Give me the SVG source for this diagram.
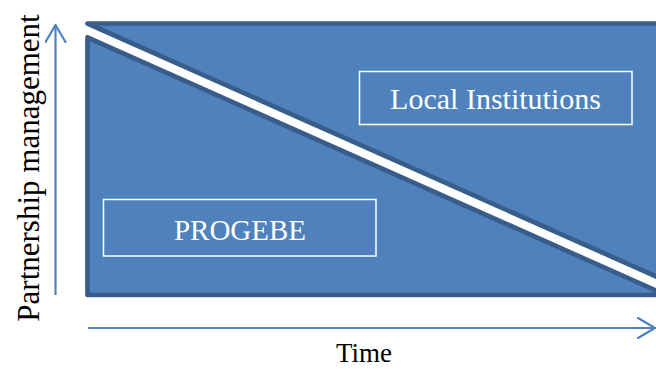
<svg xmlns="http://www.w3.org/2000/svg" width="656" height="369" viewBox="0 0 656 369">
<defs>
<style>
.tri{fill:#4F81BD;stroke:#385D8A;stroke-width:4.7;stroke-linejoin:round}
.box{fill:none;stroke:#FFFFFF;stroke-width:1.5}
.lbl{font-family:"Liberation Serif",serif;fill:#FFFFFF;text-anchor:middle}
.axl{font-family:"Liberation Serif",serif;fill:#000000;text-anchor:middle}
.axis{stroke:#4F81BD;stroke-width:2.2;fill:none}
</style>
<marker id="arr" viewBox="0 0 20 22" refX="18" refY="11" markerWidth="20" markerHeight="22" markerUnits="userSpaceOnUse" orient="auto">
<path d="M1,1 L18,11 L1,21" fill="none" stroke="#4F81BD" stroke-width="2.2" stroke-linecap="round" stroke-linejoin="round"/>
</marker>
</defs>
<rect width="656" height="369" fill="#FFFFFF"/>
<g id="local-institutions">
<polygon class="tri" points="87.5,23.5 700,23.5 700,296"/>
<rect class="box" x="359.5" y="71.5" width="272.5" height="53"/>
<text class="lbl" x="495.5" y="109" font-size="30">Local Institutions</text>
</g>
<g id="progebe">
<polygon class="tri" points="87.5,37.5 87.5,295 666,295"/>
<rect class="box" x="103.5" y="199.5" width="272.5" height="56.5"/>
<text class="lbl" x="240" y="240" font-size="29">PROGEBE</text>
</g>
<g id="connectors">
<line class="axis" x1="55.5" y1="295" x2="55.5" y2="25" marker-end="url(#arr)"/>
<line class="axis" x1="88" y1="328" x2="655" y2="328" marker-end="url(#arr)"/>
</g>
<g id="axis-labels">
<text class="axl" transform="translate(39,168) rotate(-90)" font-size="31">Partnership management</text>
<text class="axl" x="364" y="362" font-size="27">Time</text>
</g>
</svg>
